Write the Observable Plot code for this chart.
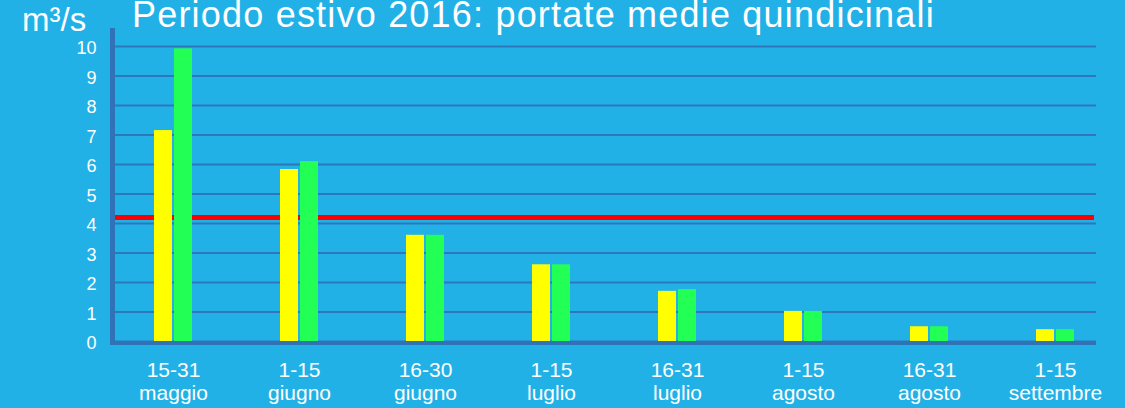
<!DOCTYPE html>
<html>
<head>
<meta charset="utf-8">
<script src="https://cdn.jsdelivr.net/npm/d3@7"></script>
<script src="https://cdn.jsdelivr.net/npm/@observablehq/plot@0.6"></script>
<style>
  html, body { margin: 0; padding: 0; background: #22b1e7; }
  #wrap { position: relative; width: 1125px; height: 408px; overflow: hidden; background: #22b1e7; font-family: "Liberation Sans", Arial, sans-serif; color: #fff; }
  #wrap svg { position: absolute; left: 0; top: 0; }
  #title { position: absolute; left: 132px; top: 1px; font-size: 36px; letter-spacing: 1.2px; white-space: nowrap; line-height: 28px; }
  #unit { position: absolute; left: 22px; top: 2px; font-size: 33px; white-space: nowrap; line-height: 36px; }
</style>
</head>
<body>
<div id="wrap">
  <div id="title">Periodo estivo 2016: portate medie quindicinali</div>
  <div id="unit">m³/s</div>
</div>
<script>
const periods = ["15-31\nmaggio", "1-15\ngiugno", "16-30\ngiugno", "1-15\nluglio", "16-31\nluglio", "1-15\nagosto", "16-31\nagosto", "1-15\nsettembre"];
const seriesYellow = [7.15, 5.83, 3.6, 2.6, 1.7, 1.02, 0.5, 0.4];
const seriesGreen = [9.92, 6.1, 3.6, 2.6, 1.76, 1.02, 0.5, 0.4];
const threshold = [4.2];
const yTicks = [0, 1, 2, 3, 4, 5, 6, 7, 8, 9, 10];

const table = periods.map((p, i) => ({period: p, yellow: seriesYellow[i], green: seriesGreen[i]}));

const gridColor = "#2f77bb";
const axisColor = "#2f72b6";

const axisLines = (index, scales, values, dims) => {
  const g = d3.create("svg:g");
  const x0 = dims.marginLeft;
  const y0 = dims.height - dims.marginBottom;
  const xEnd = dims.width - dims.marginRight - 22;
  g.append("line").attr("x1", x0 + 2.5).attr("x2", x0 + 2.5).attr("y1", dims.marginTop - 18).attr("y2", y0 + 4)
    .attr("stroke", axisColor).attr("stroke-width", 5);
  g.append("line").attr("x1", x0).attr("x2", xEnd).attr("y1", y0 + 2).attr("y2", y0 + 2)
    .attr("stroke", axisColor).attr("stroke-width", 4);
  return g.node();
};

const chart = Plot.plot({
  width: 1125,
  height: 408,
  marginLeft: 110,
  marginRight: 7,
  marginTop: 46,
  marginBottom: 67,
  style: {background: "transparent", color: "#fff", fontFamily: "'Liberation Sans', Arial, sans-serif"},
  x: {domain: periods, padding: 0, label: null},
  y: {domain: [0, 10], label: null},
  marks: [
    Plot.ruleY(yTicks, {stroke: gridColor, strokeWidth: 2, insetRight: 22}),
    Plot.ruleY(threshold, {stroke: "#ff0000", strokeWidth: 5, insetRight: 24}),
    Plot.barY(table, {x: "period", y: "yellow", fill: "#ffff00", insetLeft: 44, insetRight: 64}),
    Plot.barY(table, {x: "period", y: "green", fill: "#22ff55", insetLeft: 64, insetRight: 44}),
    axisLines,
    Plot.axisY({ticks: yTicks, tickSize: 0, tickPadding: 14, fontSize: 18, dy: 2, label: null}),
    Plot.axisX({tickSize: 0, tickPadding: 19, fontSize: 21, lineHeight: 1.1, label: null})
  ]
});
document.getElementById("wrap").prepend(chart);
</script>
</body>
</html>
